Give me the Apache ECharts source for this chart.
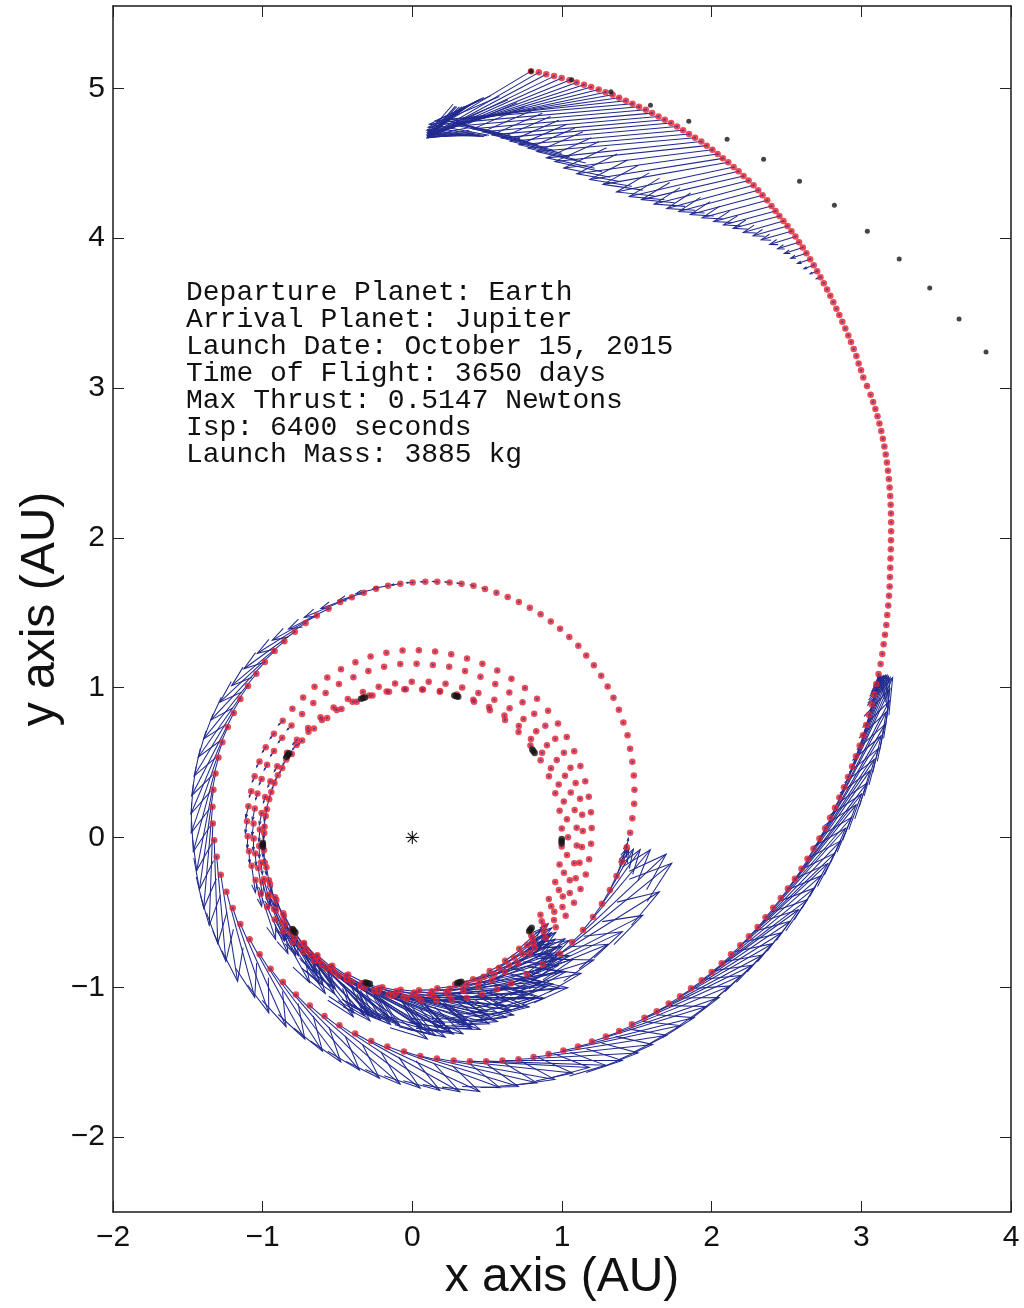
<!DOCTYPE html>
<html>
<head>
<meta charset="utf-8">
<script src="https://cdn.jsdelivr.net/npm/echarts@6/dist/echarts.min.js"></script>
<style>
  html, body { margin: 0; padding: 0; background: #ffffff; }
  #chart { width: 1024px; height: 1308px; }
</style>
</head>
<body>
<div id="chart"></div>
<script>
// ---- axes ----
const xTicks = [-2, -1, 0, 1, 2, 3, 4];
const yTicks = [-2, -1, 0, 1, 2, 3, 4, 5];

// ---- mission summary ----
const infoLines = [
  'Departure Planet: Earth',
  'Arrival Planet: Jupiter',
  'Launch Date: October 15, 2015',
  'Time of Flight: 3650 days',
  'Max Thrust: 0.5147 Newtons',
  'Isp: 6400 seconds',
  'Launch Mass: 3885 kg'
];

// ---- early spiral revolutions near 1 AU ----
// coasting samples: [heliocentric longitude deg, radius AU]
const coastRev1 = [[-38,1.0],[-31.1,1.0],[-24.2,1.0],[-17.3,1.0],[-10.4,1.0],[-3.5,1.0],[3.4,1.0],[10.3,1.0],[17.2,1.0],[24.1,1.0],[31,1.0],[37.9,1.0],[44.8,1.0],[51.7,1.0],[58.6,0.995],[65.5,0.995],[72.4,0.99],[79.3,0.99],[86.2,0.99],[93.1,0.99],[100,0.99],[106.9,0.99],[113.8,0.99],[120.7,0.99],[127.6,0.99],[134.5,0.99]];
const coastRev2 = [[-39.5,1.03],[-32.9,1.03],[-26.3,1.035],[-19.7,1.04],[-13.1,1.04],[-6.5,1.04],[0.1,1.04],[6.7,1.04],[13.3,1.04],[19.9,1.04],[26.5,1.035],[33.1,1.035],[39.7,1.03],[46.3,1.03],[52.9,1.02],[59.5,1.01],[66.1,1.005],[72.7,1.0],[79.3,0.995],[85.9,0.99],[92.5,0.99],[99.1,0.985],[105.7,0.985],[112.3,0.98],[118.9,0.98],[125.5,0.98],[132.1,0.98]];
const coastRev3 = [[-40,1.05],[-33.8,1.06],[-27.6,1.07],[-21.4,1.08],[-15.2,1.09],[-9,1.095],[-2.8,1.1],[3.4,1.1],[9.6,1.1],[15.8,1.1],[22,1.1],[28.2,1.095],[34.4,1.09],[40.6,1.09],[46.8,1.085],[53,1.08],[59.2,1.07],[65.4,1.06],[71.6,1.055],[77.8,1.05],[84,1.045],[90.2,1.04],[96.4,1.035],[102.6,1.03],[108.8,1.025],[115,1.02],[121.2,1.015],[127.4,1.01],[133.6,1.01]];
const coastRev4 = [[-41,1.07],[-35.6,1.08],[-30.2,1.095],[-24.8,1.105],[-19.4,1.115],[-14,1.125],[-8.6,1.13],[-3.2,1.135],[2.2,1.14],[7.6,1.145],[13,1.15],[18.4,1.15],[23.8,1.155],[29.2,1.16],[34.6,1.16],[40,1.16],[45.4,1.16],[50.8,1.165],[56.2,1.165],[61.6,1.165],[67,1.165],[72.4,1.165],[77.8,1.165],[83.2,1.16],[88.6,1.16],[94,1.16],[99.4,1.155],[104.8,1.15],[110.2,1.14],[115.6,1.135],[121,1.125],[126.4,1.115],[131.8,1.105]];
const coastRev5 = [[-42,1.1],[-37,1.115],[-32,1.13],[-27,1.15],[-22,1.165],[-17,1.175],[-12,1.185],[-7,1.19],[-2,1.195],[3,1.2],[8,1.205],[13,1.21],[18,1.215],[23,1.22],[28,1.225],[33,1.23],[38,1.235],[43,1.24],[48,1.245],[53,1.25],[58,1.25],[63,1.25],[68,1.25],[73,1.25],[78,1.25],[83,1.25],[88,1.25],[93,1.25],[98,1.245],[103,1.24],[108,1.23],[113,1.22],[118,1.21],[123,1.2],[128,1.185],[133,1.175]];

// thrusting samples: [longitude deg, radius AU, thrust direction deg, arrow length AU]
const burnRev1 = [[141.4,0.99,229,0.04],[148.3,0.99,236,0.04],[155.2,0.99,243,0.04],[162.1,0.99,250,0.04],[169,0.99,257,0.08],[175.9,0.99,264,0.08],[182.8,1.0,271,0.08],[189.7,1.0,278,0.08],[196.6,1.0,285,0.18],[203.5,1.0,292,0.32],[210.4,1.0,298,0.45],[217.3,1.01,305,0.48],[224.2,1.01,312,0.64],[231.1,1.01,319,0.64],[238,1.01,326,0.72],[244.9,1.01,333,0.72],[251.8,1.02,340,0.72],[258.7,1.02,347,0.72],[265.6,1.02,354,0.72],[272.5,1.02,1,0.72],[279.4,1.02,7,0.72],[286.3,1.02,14,0.72],[293.2,1.03,21,0.6],[300.1,1.03,28,0.42],[307,1.03,35,0.38],[313.9,1.03,42,0.2]];
const burnRev2 = [[138.7,0.98,227,0.04],[145.3,0.98,233,0.04],[151.9,0.985,240,0.04],[158.5,0.99,247,0.04],[165.1,0.99,253,0.08],[171.7,0.99,260,0.08],[178.3,0.99,266,0.08],[184.9,0.995,273,0.08],[191.5,0.995,280,0.18],[198.1,1.0,286,0.18],[204.7,1.0,293,0.32],[211.3,1.005,299,0.45],[217.9,1.01,306,0.48],[224.5,1.015,313,0.64],[231.1,1.02,319,0.64],[237.7,1.02,326,0.74],[244.3,1.025,332,0.74],[250.9,1.03,339,0.74],[257.5,1.03,346,0.74],[264.1,1.03,352,0.74],[270.7,1.035,359,0.74],[277.3,1.035,5,0.74],[283.9,1.04,12,0.74],[290.5,1.04,19,0.6],[297.1,1.045,25,0.6],[303.7,1.045,32,0.4],[310.3,1.05,38,0.2],[316.9,1.05,45,0.2]];
const burnRev3 = [[139.8,1.01,228,0.04],[146,1.01,234,0.04],[152.2,1.02,240,0.04],[158.4,1.02,246,0.04],[164.6,1.02,253,0.04],[170.8,1.02,259,0.08],[177,1.02,265,0.08],[183.2,1.025,271,0.08],[189.4,1.025,277,0.08],[195.6,1.03,284,0.18],[201.8,1.03,290,0.32],[208,1.03,296,0.34],[214.2,1.03,302,0.48],[220.4,1.03,308,0.64],[226.6,1.03,315,0.64],[232.8,1.03,321,0.66],[239,1.035,327,0.78],[245.2,1.04,333,0.78],[251.4,1.04,339,0.78],[257.6,1.045,346,0.78],[263.8,1.05,352,0.78],[270,1.05,358,0.78],[276.2,1.055,4,0.78],[282.4,1.055,10,0.78],[288.6,1.06,17,0.74],[294.8,1.06,23,0.6],[301,1.065,29,0.42],[307.2,1.07,35,0.38],[313.4,1.07,41,0.2]];
const burnRev4 = [[137.2,1.1,225,0.04],[142.6,1.095,231,0.04],[148,1.09,236,0.04],[153.4,1.085,241,0.04],[158.8,1.08,247,0.04],[164.2,1.075,252,0.04],[169.6,1.07,258,0.08],[175,1.065,263,0.08],[180.4,1.06,268,0.08],[185.8,1.055,274,0.08],[191.2,1.05,279,0.18],[196.6,1.045,285,0.18],[202,1.04,290,0.32],[207.4,1.04,295,0.34],[212.8,1.035,301,0.48],[218.2,1.035,306,0.5],[223.6,1.035,312,0.64],[229,1.035,317,0.64],[234.4,1.04,322,0.66],[239.8,1.04,328,0.8],[245.2,1.045,333,0.8],[250.6,1.05,339,0.8],[256,1.055,344,0.8],[261.4,1.06,349,0.8],[266.8,1.065,355,0.8],[272.2,1.07,0,0.8],[277.6,1.07,6,0.8],[283,1.075,11,0.8],[288.4,1.08,16,0.76],[293.8,1.085,22,0.6],[299.2,1.09,27,0.58],[304.6,1.09,33,0.4],[310,1.095,38,0.2],[315.4,1.1,43,0.2]];
const burnRev5 = [[138,1.165,226,0.04],[143.2,1.155,231,0.04],[148.4,1.15,236,0.04],[153.6,1.14,242,0.04],[158.8,1.13,247,0.04],[164,1.12,252,0.04],[169.2,1.115,257,0.08],[174.4,1.11,262,0.08],[179.6,1.1,268,0.08],[184.8,1.095,273,0.08],[190,1.09,278,0.18],[195.2,1.085,283,0.18],[200.4,1.08,288,0.32],[205.6,1.075,294,0.34],[210.8,1.07,299,0.48],[216,1.065,304,0.5],[221.2,1.06,309,0.64],[226.4,1.055,314,0.64],[231.6,1.05,320,0.66],[236.8,1.045,325,0.82],[242,1.045,330,0.82],[247.2,1.045,335,0.82],[252.4,1.05,340,0.82],[257.6,1.055,346,0.82],[262.8,1.065,351,0.82],[268,1.075,356,0.82],[273.2,1.09,1,0.82],[278.4,1.1,6,0.82],[283.6,1.115,6,0.78],[288.8,1.13,12,0.78],[294,1.145,17,0.78],[299.2,1.16,22,0.8]];

// ---- outward transfer (x AU, y AU) ----
// escape burn: [x, y, thrust direction deg, arrow length AU]
const escapeBurn = [[0.66,-0.975,25,0.82],[0.765,-0.915,27,0.87],[0.87,-0.85,32,0.92],[0.987,-0.776,39,0.96],[1.067,-0.698,43,0.86],[1.14,-0.618,50,0.7],[1.207,-0.531,55,0.55],[1.267,-0.442,60,0.42],[1.32,-0.351,65,0.3],[1.364,-0.258,70,0.2],[1.4,-0.162,75,0.12],[1.433,-0.065,80,0.06]];
const coastArcA = [[1.455,0.031],[1.47,0.129],[1.482,0.225],[1.484,0.318],[1.48,0.413],[1.47,0.505],[1.455,0.593],[1.438,0.682],[1.41,0.767],[1.38,0.853],[1.344,0.933],[1.305,1.007],[1.262,1.08],[1.213,1.149],[1.162,1.215],[1.109,1.28],[1.049,1.338],[0.987,1.393],[0.925,1.442],[0.857,1.49],[0.785,1.533],[0.712,1.572],[0.637,1.605],[0.562,1.634]];
const perihelionBurn = [[0.486,1.659,165,0.02],[0.409,1.68,167,0.02],[0.329,1.693,171,0.03],[0.249,1.702,174,0.03],[0.167,1.707,177,0.03],[0.087,1.707,180,0.03],[0.002,1.702,183,0.04],[-0.08,1.693,187,0.06],[-0.162,1.68,190,0.1],[-0.242,1.66,194,0.14],[-0.324,1.633,197,0.18],[-0.404,1.604,200,0.22],[-0.482,1.571,203,0.26],[-0.56,1.527,207,0.3],[-0.638,1.482,209,0.34],[-0.713,1.431,212,0.38],[-0.785,1.373,216,0.42],[-0.855,1.309,220,0.46],[-0.92,1.244,223,0.5],[-0.985,1.171,227,0.53],[-1.042,1.093,231,0.56],[-1.098,1.011,235,0.58],[-1.149,0.924,239,0.6],[-1.193,0.831,243,0.62],[-1.233,0.738,247,0.63],[-1.269,0.636,251,0.64],[-1.295,0.533,255,0.65],[-1.315,0.427,259,0.66],[-1.329,0.318,262,0.67],[-1.335,0.205,265,0.68],[-1.333,0.093,268,0.68],[-1.324,-0.018,272,0.69],[-1.307,-0.129,275,0.7],[-1.28,-0.249,279,0.72],[-1.242,-0.362,285,0.73],[-1.2,-0.471,289,0.74],[-1.149,-0.578,294,0.75],[-1.087,-0.68,299,0.76],[-1.02,-0.78,303,0.77],[-0.947,-0.876,307,0.78],[-0.865,-0.964,311,0.78],[-0.778,-1.049,315,0.79],[-0.685,-1.122,319,0.8],[-0.587,-1.191,323,0.8],[-0.487,-1.253,327,0.8],[-0.382,-1.309,331,0.8],[-0.275,-1.358,335,0.8],[-0.167,-1.396,340,0.8],[-0.056,-1.429,343,0.8],[0.053,-1.458,347,0.8],[0.164,-1.476,350,0.8],[0.276,-1.489,354,0.8],[0.384,-1.493,357,0.8],[0.493,-1.493,358,0.8],[0.602,-1.489,0,0.8],[0.709,-1.48,3,0.8],[0.81,-1.465,6,0.8],[0.91,-1.445,9,0.8],[1.009,-1.422,12,0.8],[1.107,-1.396,14,0.8],[1.2,-1.362,17,0.8],[1.293,-1.329,19,0.8],[1.382,-1.291,22,0.8],[1.467,-1.247,24,0.8],[1.551,-1.204,26,0.8],[1.633,-1.16,28,0.8],[1.713,-1.109,30,0.8],[1.789,-1.06,32,0.8],[1.862,-1.007,34,0.8],[1.933,-0.953,36,0.8],[2.0,-0.898,37,0.8],[2.067,-0.84,39,0.8],[2.129,-0.78,41,0.8],[2.191,-0.72,43,0.8],[2.249,-0.66,44,0.8],[2.307,-0.598,46,0.8],[2.36,-0.533,48,0.8],[2.411,-0.469,49,0.8],[2.462,-0.404,51,0.8],[2.509,-0.34,52,0.8],[2.556,-0.276,53,0.8],[2.6,-0.209,55,0.8],[2.64,-0.142,56,0.8],[2.68,-0.076,57,0.8],[2.72,-0.007,59,0.8],[2.758,0.062,60,0.8],[2.791,0.131,62,0.8],[2.824,0.198,63,0.8],[2.853,0.267,65,0.8],[2.884,0.336,66,0.8],[2.911,0.404,67,0.72],[2.938,0.473,68,0.65],[2.964,0.542,69,0.58],[2.989,0.613,70,0.5],[3.011,0.682,71,0.42],[3.033,0.751,72,0.34],[3.051,0.818,73,0.27],[3.069,0.887,73,0.2],[3.087,0.955,74,0.13],[3.1,1.025,75,0.06]];
const coastArcB = [[3.115,1.091],[3.129,1.158],[3.14,1.225],[3.149,1.289],[3.158,1.353],[3.167,1.418],[3.173,1.485],[3.18,1.549],[3.185,1.613],[3.189,1.675],[3.191,1.738],[3.193,1.8],[3.195,1.862],[3.197,1.923],[3.198,1.984],[3.199,2.044],[3.199,2.104],[3.198,2.163],[3.196,2.221],[3.193,2.279],[3.189,2.336],[3.184,2.392],[3.178,2.448],[3.171,2.503],[3.163,2.557],[3.154,2.61],[3.144,2.662],[3.133,2.713],[3.121,2.763],[3.108,2.812],[3.094,2.86],[3.079,2.907],[3.062,2.955],[3.038,3.013],[3.013,3.071],[2.998,3.118],[2.982,3.164],[2.967,3.213],[2.949,3.26],[2.931,3.307],[2.913,3.351],[2.893,3.398],[2.873,3.442],[2.853,3.487],[2.833,3.529],[2.813,3.573],[2.793,3.616],[2.771,3.658],[2.749,3.7]];
const arrivalBurn = [[2.727,3.74,200,0.03],[2.705,3.78,200,0.05],[2.682,3.82,200,0.07],[2.658,3.86,199,0.09],[2.633,3.9,198,0.11],[2.609,3.938,198,0.13],[2.584,3.973,197,0.15],[2.56,4.011,197,0.18],[2.533,4.047,196,0.21],[2.507,4.082,196,0.24],[2.48,4.115,196,0.28],[2.453,4.149,195,0.32],[2.427,4.182,195,0.36],[2.4,4.215,195,0.4],[2.371,4.253,195,0.45],[2.34,4.287,195,0.5],[2.311,4.32,195,0.55],[2.28,4.353,195,0.6],[2.247,4.385,194,0.65],[2.213,4.415,193,0.7],[2.18,4.447,193,0.75],[2.147,4.475,192,0.8],[2.111,4.507,190,0.85],[2.075,4.533,189,0.9],[2.04,4.562,188,0.95],[2.005,4.591,187,1.0],[1.967,4.618,186,1.02],[1.931,4.645,186,1.04],[1.889,4.671,185,1.06],[1.849,4.695,185,1.08],[1.809,4.72,185,1.1],[1.769,4.745,185,1.12],[1.729,4.769,185,1.14],[1.687,4.791,185,1.16],[1.645,4.813,185,1.18],[1.602,4.835,185,1.2],[1.56,4.858,185,1.22],[1.515,4.878,185,1.24],[1.471,4.898,185,1.26],[1.427,4.918,186,1.28],[1.382,4.938,188,1.28],[1.338,4.958,190,1.25],[1.291,4.975,192,1.22],[1.245,4.993,194,1.18],[1.195,5.009,196,1.14],[1.147,5.025,198,1.1],[1.098,5.04,200,1.06],[1.049,5.055,202,1.02],[0.998,5.069,204,0.98],[0.947,5.082,206,0.94],[0.895,5.095,208,0.9],[0.845,5.107,210,0.85],[0.793,5.115,211,0.8]];

// ---- planets ----
// Earth sampled through the flight: [longitude deg, radius AU]
const earthDots = [[108.7,0.987],[109.5,0.987],[110.3,0.987],[71.9,0.988],[72.7,0.988],[73.5,0.988],[34.6,0.993],[35.4,0.993],[36.2,0.993],[-2.2,0.998],[-1.4,0.998],[-0.6,0.998],[-38.7,1.0],[-37.9,1.0],[-37.1,1.0],[-72.8,1.017],[-72,1.017],[-71.2,1.017],[-107.8,1.017],[-107,1.017],[-106.2,1.017],[-142.5,1.007],[-141.7,1.007],[-140.9,1.007],[-178,1.0],[-177.2,1.0],[-176.4,1.0],[145.7,0.997],[146.5,0.997],[147.3,0.997]];
// Jupiter sampled through the flight (x AU, y AU)
const jupiterDots = [[0.793,5.115],[1.065,5.058],[1.327,4.978],[1.591,4.887],[1.847,4.78],[2.103,4.66],[2.347,4.527],[2.587,4.38],[2.82,4.22],[3.04,4.047],[3.253,3.862],[3.457,3.667],[3.653,3.46],[3.833,3.24]];
const sunPos = [[0, 0]];

// ---- build series data ----
const DEG = Math.PI / 180;
const fromPolar = (t, r) => [r * Math.cos(t * DEG), r * Math.sin(t * DEG)];
const arrowOf = (x, y, a, l) => [x, y, x + l * Math.cos(a * DEG), y + l * Math.sin(a * DEG)];

const coastPolar = [].concat(coastRev1, coastRev2, coastRev3, coastRev4, coastRev5);
const burnPolar = [].concat(burnRev1, burnRev2, burnRev3, burnRev4, burnRev5);

const arrows = [];
burnPolar.forEach(([t, r, a, l]) => { const p = fromPolar(t, r); arrows.push(arrowOf(p[0], p[1], a, l)); });
[].concat(escapeBurn, perihelionBurn, arrivalBurn).forEach(([x, y, a, l]) => arrows.push(arrowOf(x, y, a, l)));

const craftDots = []
  .concat(coastPolar.map(([t, r]) => fromPolar(t, r)))
  .concat(arrows.map(d => [d[0], d[1]]))
  .concat(coastArcA, coastArcB);

const earthXY = earthDots.map(([t, r]) => fromPolar(t, r));

const BLUE = '#212a8e';
const RED = '#e3202e';
const FONT = '"Liberation Sans", Arial, Helvetica, sans-serif';
const minus = v => String(v).replace('-', '\u2212');

// quiver-style arrow: shaft plus a two-barb head at the tip
function renderArrow(params, api) {
  const p0 = api.coord([api.value(0), api.value(1)]);
  const p1 = api.coord([api.value(2), api.value(3)]);
  const u = p1[0] - p0[0], v = p1[1] - p0[1];
  const a = 0.3, b = 0.33;
  const h1 = [p1[0] - a * (u + b * v), p1[1] - a * (v - b * u)];
  const h2 = [p1[0] - a * (u - b * v), p1[1] - a * (v + b * u)];
  const style = { stroke: BLUE, lineWidth: 1.05, fill: null };
  return {
    type: 'group',
    children: [
      { type: 'polyline', shape: { points: [p0, p1] }, style },
      { type: 'polyline', shape: { points: [h1, p1, h2] }, style }
    ]
  };
}

function renderSun(params, api) {
  const c = api.coord([api.value(0), api.value(1)]);
  const r = 6.5, children = [];
  [0, 45, 90, 135].forEach(k => {
    const dx = r * Math.cos(k * DEG), dy = r * Math.sin(k * DEG);
    children.push({ type: 'line', shape: { x1: c[0] - dx, y1: c[1] - dy, x2: c[0] + dx, y2: c[1] + dy },
      style: { stroke: '#111', lineWidth: 1.1 } });
  });
  return { type: 'group', children };
}

const axisLineStyle = { color: '#1a1a1a', width: 1.5 };
const tickStyle = { inside: true, length: 11, lineStyle: { color: '#222', width: 1 } };

const chart = echarts.init(document.getElementById('chart'), null, { renderer: 'canvas' });
chart.setOption({
  animation: false,
  backgroundColor: '#ffffff',
  grid: { left: 113, right: 13, top: 6, bottom: 96, containLabel: false },
  xAxis: [
    { type: 'value', min: -2, max: 4, interval: 1, position: 'bottom',
      axisLine: { show: true, onZero: false, lineStyle: axisLineStyle },
      axisTick: Object.assign({ customValues: xTicks }, tickStyle),
      axisLabel: { customValues: xTicks, formatter: minus, fontFamily: FONT, fontSize: 30, color: '#111', margin: 11 },
      splitLine: { show: false } },
    { type: 'value', min: -2, max: 4, interval: 1, position: 'top',
      axisLine: { show: true, onZero: false, lineStyle: axisLineStyle },
      axisTick: Object.assign({ customValues: xTicks }, tickStyle),
      axisLabel: { show: false }, splitLine: { show: false } }
  ],
  yAxis: [
    { type: 'value', min: -2.5, max: 5.55, position: 'left',
      axisLine: { show: true, onZero: false, lineStyle: axisLineStyle },
      axisTick: Object.assign({ customValues: yTicks }, tickStyle),
      axisLabel: { customValues: yTicks, formatter: minus, fontFamily: FONT, fontSize: 30, color: '#111', margin: 8 },
      splitLine: { show: false } },
    { type: 'value', min: -2.5, max: 5.55, position: 'right',
      axisLine: { show: true, onZero: false, lineStyle: axisLineStyle },
      axisTick: Object.assign({ customValues: yTicks }, tickStyle),
      axisLabel: { show: false }, splitLine: { show: false } }
  ],
  graphic: [
    { type: 'text', left: 186, top: 279, z: 10,
      style: { text: infoLines.join('\n'), font: '28px "Liberation Mono", "Courier New", monospace', lineHeight: 27, fill: '#111' } },
    { type: 'text', x: 562, y: 1278, z: 10,
      style: { text: 'x axis (AU)', font: '48px ' + FONT, fill: '#111', align: 'center', verticalAlign: 'middle' } },
    { type: 'text', x: 41, y: 609, rotation: Math.PI / 2, z: 10,
      style: { text: 'y axis (AU)', font: '48px ' + FONT, fill: '#111', align: 'center', verticalAlign: 'middle' } }
  ],
  series: [
    { name: 'thrust', type: 'custom', coordinateSystem: 'cartesian2d', xAxisIndex: 0, yAxisIndex: 0,
      renderItem: renderArrow, data: arrows, encode: { x: [0, 2], y: [1, 3] }, clip: true, silent: true, z: 1 },
    { name: 'spacecraft', type: 'scatter', data: craftDots, symbol: 'circle', symbolSize: 6.5,
      itemStyle: { color: RED }, silent: true, z: 2 },
    { name: 'thrust base', type: 'scatter', data: craftDots, symbol: 'circle', symbolSize: 2.2,
      itemStyle: { color: '#3b3aa3' }, silent: true, z: 3 },
    { name: 'Earth', type: 'scatter', data: earthXY, symbol: 'circle', symbolSize: 6.5,
      itemStyle: { color: '#151515' }, silent: true, z: 4 },
    { name: 'Jupiter', type: 'scatter', data: jupiterDots, symbol: 'circle', symbolSize: 5,
      itemStyle: { color: '#151515' }, silent: true, z: 4 },
    { name: 'Sun', type: 'custom', coordinateSystem: 'cartesian2d', renderItem: renderSun,
      data: sunPos, silent: true, z: 5 }
  ]
});
</script>
</body>
</html>
